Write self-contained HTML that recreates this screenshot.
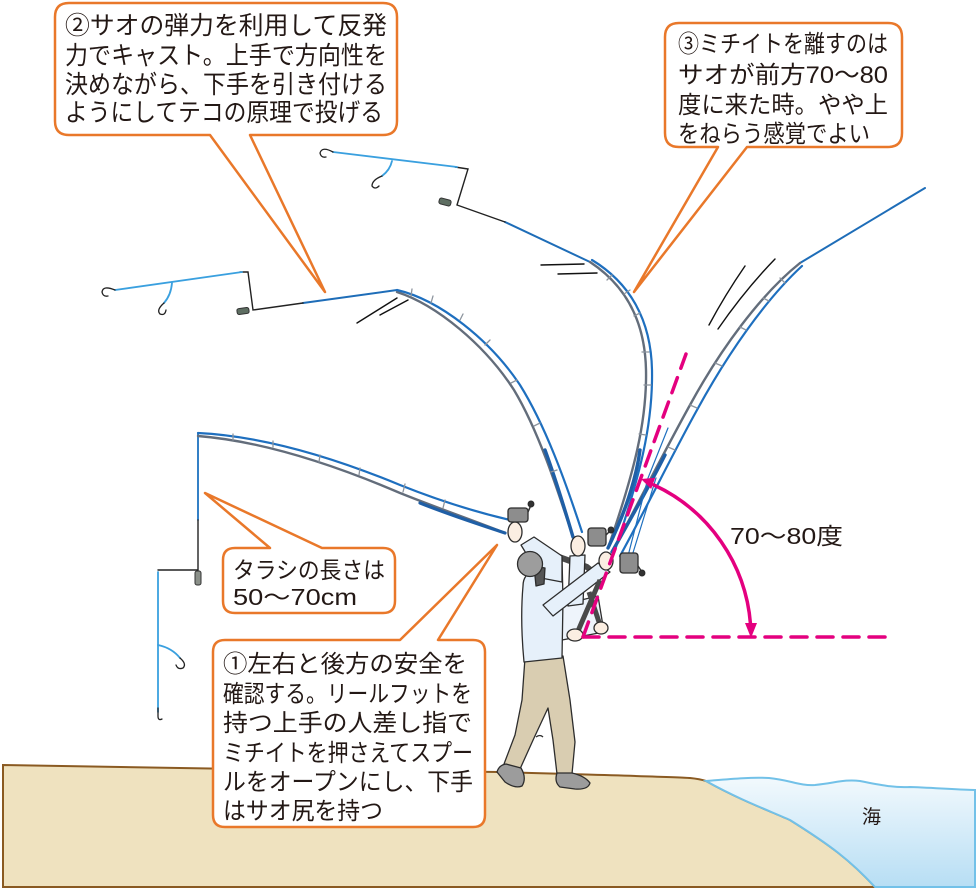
<!DOCTYPE html>
<html><head><meta charset="utf-8"><style>
html,body{margin:0;padding:0;background:#fff;}
svg{display:block;}
text{font-family:"Liberation Sans","Noto Sans CJK JP",sans-serif;fill:#231815;}
</style></head><body>
<svg width="980" height="890" viewBox="0 0 980 890" xmlns="http://www.w3.org/2000/svg">
<defs>
<linearGradient id="sea" x1="0" y1="0" x2="0" y2="1">
<stop offset="0" stop-color="#f2f9fd"/><stop offset="1" stop-color="#b7def4"/>
</linearGradient>
</defs>
<rect width="980" height="890" fill="#fff"/>
<!-- ground -->
<path d="M3,765 C100,766 200,768 300,770 L500,772 C600,775 680,777 690,778 C700,779 703,780 706,781 C740,800 770,811 790,820 C830,845 850,860 875,887 L3,887 Z" fill="#efe2bf" stroke="#8a5a22" stroke-width="2"/>
<!-- sea -->
<path d="M706,781 C730,779 750,777 769,778 C790,780 800,786 815,785 C835,783 845,779 860,781 C880,785 895,788 910,787 C940,788 960,790 975,790 L975,887 L875,887 C850,860 830,845 790,820 C770,811 740,800 706,781 Z" fill="url(#sea)" stroke="#72c1e8" stroke-width="2"/>
<text x="862" y="823" font-size="19">海</text>

<!-- rig A -->
<g fill="none" stroke-linecap="round">
<path d="M198,433 V520" stroke="#1e72c0" stroke-width="1.8"/>
<path d="M198,520 V570 H158" stroke="#222" stroke-width="1.4"/>
<rect x="195" y="571" width="6" height="14" rx="2" fill="#8a8f88" stroke="#333" stroke-width="1"/>
<path d="M158,572 V712" stroke="#3aa0df" stroke-width="1.8"/>
<path d="M158,708 V716 Q158,721 162,719" stroke="#222" stroke-width="1.3"/>
<path d="M158,645 Q172,648 180,658" stroke="#3aa0df" stroke-width="1.8"/>
<path d="M180,658 Q187,664 183,668 Q178,670 176,665" stroke="#222" stroke-width="1.3"/>
<!-- rig B -->
<path d="M397,290 L303,303" stroke="#1e6db8" stroke-width="2"/>
<path d="M303,303 L253,310 L248,272 L240,272" stroke="#222" stroke-width="1.4"/>
<path d="M242,272 L115,290" stroke="#3aa0df" stroke-width="1.8"/>
<path d="M115,290 Q103,285 102,292 Q103,297 108,296" stroke="#222" stroke-width="1.3"/>
<path d="M172,283 Q171,295 164,303" stroke="#3aa0df" stroke-width="1.8"/>
<path d="M164,303 Q156,310 160,314 Q165,316 166,310" stroke="#222" stroke-width="1.3"/>
<!-- rig C -->
<path d="M590,262 L505,222" stroke="#1e6db8" stroke-width="2"/>
<path d="M505,222 L457,205 L468,169 L455,167" stroke="#222" stroke-width="1.4"/>
<path d="M457,167 L333,152" stroke="#3aa0df" stroke-width="1.8"/>
<path d="M333,152 Q322,146 320,153 Q321,158 326,157" stroke="#222" stroke-width="1.3"/>
<path d="M392,161 Q390,170 382,176" stroke="#3aa0df" stroke-width="1.8"/>
<path d="M382,176 Q372,180 372,186 Q375,190 379,186" stroke="#222" stroke-width="1.3"/>
<!-- line D -->
<path d="M800,263 L925,188" stroke="#1e6db8" stroke-width="2"/>
</g>
<g fill="#5e6e62" stroke="#333" stroke-width="1">
<rect x="237" y="308" width="12" height="6" rx="2" transform="rotate(-8 243 311)"/>
<rect x="439" y="199" width="12" height="6" rx="2" transform="rotate(15 445 202)"/>
</g>

<!-- rods -->
<g fill="none" stroke-linecap="round">
<path d="M198,436 C260,441 330,463 400,493 C440,509 475,521 505,533" stroke="#636d7b" stroke-width="2.4"/>
<path d="M420,503 C450,515 478,524 505,533" stroke="#1f5fa6" stroke-width="3.2"/>
<path d="M198,433 C260,436 330,456 400,485 C440,501 480,513 510,520" stroke="#1e6fbf" stroke-width="2.2"/>
<path d="M397,292 C437,305 485,345 514,390 C538,430 556,485 573,537" stroke="#636d7b" stroke-width="2.4"/>
<path d="M545,450 C556,480 565,510 573,537" stroke="#1f5fa6" stroke-width="3.4"/>
<path d="M397,290 C440,300 490,340 520,385 C545,425 565,480 582,532" stroke="#1e6fbf" stroke-width="2.2"/>
<path d="M590,262 C625,285 645,320 646,370 C647,420 635,470 608,548" stroke="#636d7b" stroke-width="2.4"/>
<path d="M640,450 C636,480 624,515 608,548" stroke="#1f5fa6" stroke-width="3.4"/>
<path d="M592,260 C630,283 651,320 652,370 C653,425 640,475 615,550" stroke="#1e6fbf" stroke-width="2.2"/>
<path d="M800,263 C760,295 720,350 690,405 C665,450 640,500 612,552" stroke="#636d7b" stroke-width="2.4"/>
<path d="M665,455 C650,485 630,520 612,552" stroke="#1f5fa6" stroke-width="3.4"/>
<path d="M802,266 C765,300 727,355 697,410 C672,455 648,505 620,556" stroke="#1e6fbf" stroke-width="2.2"/>
<path d="M628,556 L648,478 L668,428" stroke="#1e6fbf" stroke-width="1.2"/>
<path d="M632,556 L656,478" stroke="#1e6fbf" stroke-width="1.2"/>
<g stroke="#8c949e" stroke-width="1.3">
<path d="M233,434 l0,6 M273,441 l0,6 M320,455 l-1,7 M360,468 l-1,7 M405,484 l-2,8 M445,500 l-2,8"/>
<path d="M412,289 l-1,7 M433,296 l-2,7 M463,314 l-3,6 M490,340 l-5,5 M517,380 l-6,3 M540,423 l-6,3 M557,470 l-6,2"/>
<path d="M612,275 l-5,5 M630,290 l-6,4 M640,313 l-6,3 M649,352 l-7,0 M651,385 l-7,0 M646,435 l-7,-1"/>
<path d="M780,278 l5,5 M763,298 l6,3 M740,327 l6,3 M715,363 l7,3 M690,405 l7,3 M668,447 l7,3"/>
</g>
<g stroke="#111" stroke-width="1.4">
<path d="M357,323 L397,298 M380,315 L408,300"/>
<path d="M541,265 L584,264 M558,274 L597,273"/>
<path d="M709,325 Q725,295 745,266 M718,329 Q745,290 775,259"/>
</g>
</g>

<!-- figure -->
<g stroke="#2d2d2d" stroke-width="1.3" stroke-linejoin="round">
<path d="M545,552 L587,567 L600,578" stroke="#4a4a4a" stroke-width="6" fill="none"/>
<!-- pants -->
<path d="M525,658 L563,656 L570,700 L575,742 L572,774 L557,774 L553,740 L548,708 L534,738 L520,769 L504,764 L515,735 L522,700 Z" fill="#d9cdb1"/>
<path d="M536,737 q4,-3 7,0" fill="none"/>
<!-- shoes -->
<path d="M497,772 Q499,765 506,764 L521,768 Q527,778 522,786 Q515,789 505,782 Z" fill="#9c9c9c"/>
<path d="M557,773 L572,773 Q585,776 590,783 Q588,790 575,789 L560,787 Q554,782 557,773 Z" fill="#9c9c9c"/>
<!-- lower shirt flap -->
<path d="M556,606 L598,596 L604,632 L562,640 Z" fill="#eef4fb"/>
<!-- torso -->
<path d="M523,586 Q523,574 535,570 L562,558 L563,600 L562,658 L524,662 Q520,620 523,586 Z" fill="#e6f0fa"/>
<!-- raised arm sleeve -->
<path d="M521,545 L534,537 L562,556 L562,582 L541,578 Z" fill="#e6f0fa"/>
<!-- head -->
<path d="M534,566 L545,568 L544,584 L536,586 Z" fill="#555"/>
<circle cx="530" cy="564" r="12.5" fill="#9d9d9d"/>
<!-- second arm -->
<path d="M570,556 L585,555 L583,604 L568,606 Z" fill="#e6f0fa"/>
<!-- third arm -->
<path d="M598,563 L610,572 L553,616 L543,605 Z" fill="#e6f0fa"/>
<!-- lower rod butts -->
<path d="M600,580 L575,638 M589,592 L601,628" stroke="#4a4a4a" stroke-width="5" fill="none"/>
<!-- hands -->
<ellipse cx="515" cy="532" rx="7" ry="10" fill="#fbeee2"/>
<ellipse cx="578" cy="546" rx="7" ry="10" fill="#fbeee2"/>
<ellipse cx="606" cy="561" rx="7" ry="9" fill="#fbeee2"/>
<ellipse cx="575" cy="635" rx="8" ry="6" fill="#fbeee2"/>
<ellipse cx="601" cy="628" rx="7" ry="6" fill="#fbeee2"/>
<!-- reels -->
<g fill="#8d8d8d">
<rect x="508" y="508" width="20" height="14" rx="3"/>
<rect x="588" y="528" width="18" height="18" rx="3"/>
<rect x="620" y="553" width="18" height="20" rx="3"/>
</g>
<path d="M528,512 L531,505 M606,535 L610,531 M638,566 L642,572" stroke="#333" stroke-width="1.5" fill="none"/>
<circle cx="531" cy="504" r="2.8" fill="#333"/>
<circle cx="611" cy="530" r="2.8" fill="#333"/>
<circle cx="642" cy="573" r="2.8" fill="#333"/>
</g>

<!-- angle marks -->
<g fill="none" stroke="#e4007f" stroke-width="3.5" stroke-linecap="round">
<path d="M583,637 L686,354" stroke-dasharray="16 10"/>
<path d="M583,637 L885,637" stroke-dasharray="16 10"/>
<path d="M654,485 A168,168 0 0 1 750.5,624"/>
</g>
<polygon points="641,479 651.2,489 655.2,477.8" fill="#e4007f"/>
<polygon points="751,638 745,623 757,623" fill="#e4007f"/>
<text x="730" y="544" font-size="23" textLength="113" lengthAdjust="spacingAndGlyphs">70〜80度</text>

<!-- callouts -->
<g fill="#fff" stroke="#e9782a" stroke-width="2.5" stroke-linejoin="round">
<path d="M69,3 H383 Q397,3 397,17 V121 Q397,135 383,135 H250 L325,292 L210,135 H69 Q55,135 55,121 V17 Q55,3 69,3 Z"/>
<path d="M679,23 H888 Q902,23 902,37 V133 Q902,147 888,147 H747 L634,292 L718,147 H679 Q665,147 665,133 V37 Q665,23 679,23 Z"/>
<path d="M235,548 H270 L205,493 L322,548 H383 Q395,548 395,560 V601 Q395,613 383,613 H235 Q223,613 223,601 V560 Q223,548 235,548 Z"/>
<path d="M225,640 H400 L497,545 L438,640 H473 Q485,640 485,652 V815 Q485,827 473,827 H225 Q213,827 213,815 V652 Q213,640 225,640 Z"/>
</g>

<g font-size="25">
<text x="65" y="34" textLength="322" lengthAdjust="spacingAndGlyphs">②サオの弾力を利用して反発</text>
<text x="65" y="64" textLength="322" lengthAdjust="spacingAndGlyphs">力でキャスト。上手で方向性を</text>
<text x="65" y="93" textLength="322" lengthAdjust="spacingAndGlyphs">決めながら、下手を引き付ける</text>
<text x="65" y="121" textLength="318" lengthAdjust="spacingAndGlyphs">ようにしてテコの原理で投げる</text>
</g>
<g font-size="24">
<text x="678" y="52" textLength="210" lengthAdjust="spacingAndGlyphs">③ミチイトを離すのは</text>
<text x="678" y="83" textLength="210" lengthAdjust="spacingAndGlyphs">サオが前方70〜80</text>
<text x="678" y="113" textLength="210" lengthAdjust="spacingAndGlyphs">度に来た時。やや上</text>
<text x="678" y="142" textLength="192" lengthAdjust="spacingAndGlyphs">をねらう感覚でよい</text>
</g>
<g font-size="23">
<text x="233" y="578" textLength="152" lengthAdjust="spacingAndGlyphs">タラシの長さは</text>
<text x="233" y="605" textLength="124" lengthAdjust="spacingAndGlyphs">50〜70cm</text>
</g>
<g font-size="24">
<text x="223" y="672" textLength="244" lengthAdjust="spacingAndGlyphs">①左右と後方の安全を</text>
<text x="223" y="702" textLength="249" lengthAdjust="spacingAndGlyphs">確認する。リールフットを</text>
<text x="223" y="731" textLength="249" lengthAdjust="spacingAndGlyphs">持つ上手の人差し指で</text>
<text x="223" y="761" textLength="250" lengthAdjust="spacingAndGlyphs">ミチイトを押さえてスプー</text>
<text x="223" y="790" textLength="250" lengthAdjust="spacingAndGlyphs">ルをオープンにし、下手</text>
<text x="223" y="819" textLength="160" lengthAdjust="spacingAndGlyphs">はサオ尻を持つ</text>
</g>
</svg>
</body></html>
